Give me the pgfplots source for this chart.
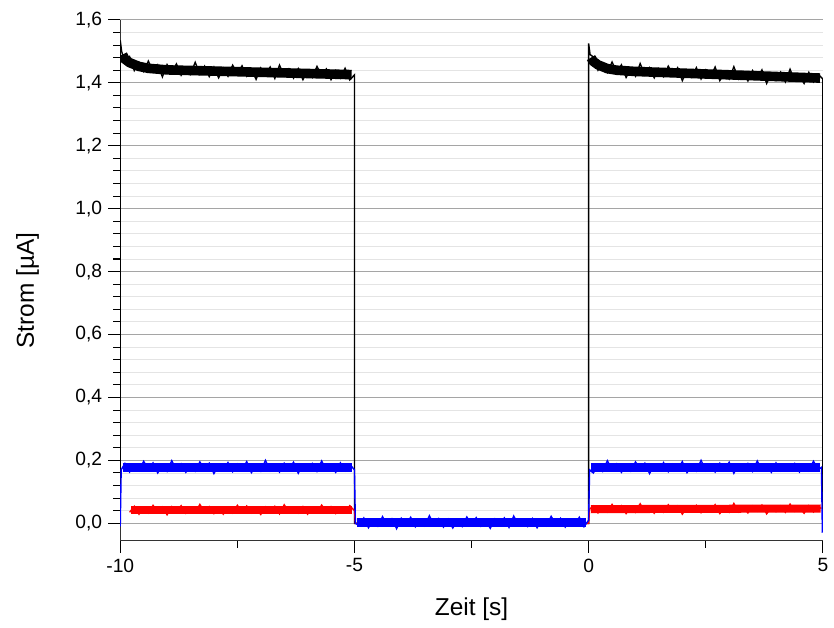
\documentclass[border=0pt]{standalone}
\usepackage{fontspec}
\setmainfont{Liberation Sans}
\usepackage{pgfplots}
\pgfplotsset{compat=1.18}
\definecolor{gridmaj}{RGB}{165,165,165}
\definecolor{gridmin}{RGB}{228,228,228}
\begin{document}
\begin{tikzpicture}
\begin{axis}[
  scale only axis, width=14.14cm, height=10.48cm,
  xmin=-10, xmax=5, ymin=-0.055, ymax=1.6,
  axis lines=left, axis line style={-, black!80, line width=0.8pt},
  xtick={-10,-5,0,5}, minor x tick num=1,
  ytick={0,0.2,0.4,0.6,0.8,1.0,1.2,1.4,1.6}, minor y tick num=4,
  tick align=outside, major tick length=0.24cm, minor tick length=0.14cm,
  tick style={black, line width=0.6pt},
  ymajorgrids, yminorgrids,
  major grid style={gridmaj, line width=0.6pt},
  minor grid style={gridmin, line width=0.5pt},
  /pgf/number format/assume math mode=true,
  yticklabel style={/pgf/number format/.cd, use comma, fixed, fixed zerofill, precision=1},
  tick label style={font=\fontsize{11}{13}\selectfont},
  label style={font=\fontsize{14}{16}\selectfont},
  xlabel={Zeit [s]}, ylabel={Strom [µA]},
  xlabel style={at={(axis description cs:0.5,-0.132)}, anchor=center},
  ylabel style={at={(axis description cs:-0.132,0.48)}, anchor=center},
]
% black: cores and noisy trace
\addplot[black, line width=5.5pt] coordinates {(-9.95,1.49)(-9.9,1.475)(-9.8,1.464)(-9.6,1.452)(-9.4,1.446)(-9,1.441)(-5.06,1.426)};
\addplot[black, line width=5.5pt] coordinates {(0.05,1.48)(0.1,1.468)(0.2,1.457)(0.4,1.445)(0.6,1.440)(1,1.436)(4.94,1.415)};
\addplot[black, line width=0.8pt] coordinates {
(-10,0.0)(-10,1.535)(-9.97,1.50)
(-9.9,1.463)(-9.8,1.483)(-9.7,1.439)(-9.6,1.465)(-9.5,1.436)(-9.4,1.469)(-9.3,1.435)(-9.2,1.457)(-9.1,1.419)(-9.0,1.458)
(-8.9,1.435)(-8.8,1.460)(-8.7,1.424)(-8.6,1.448)(-8.5,1.427)(-8.4,1.465)(-8.3,1.428)(-8.2,1.453)(-8.1,1.420)(-8.0,1.450)
(-7.9,1.416)(-7.8,1.447)(-7.7,1.421)(-7.6,1.456)(-7.5,1.428)(-7.4,1.454)(-7.3,1.421)(-7.2,1.442)(-7.1,1.411)(-7.0,1.447)
(-6.9,1.423)(-6.8,1.450)(-6.7,1.414)(-6.6,1.456)(-6.5,1.422)(-6.4,1.444)(-6.3,1.415)(-6.2,1.445)(-6.1,1.410)(-6.0,1.438)
(-5.9,1.417)(-5.8,1.452)(-5.7,1.422)(-5.6,1.444)(-5.5,1.410)(-5.4,1.439)(-5.3,1.415)(-5.2,1.446)(-5.1,1.409)(-5.0,1.425)
(-5.0,0.0)(0.0,0.0)(0.0,1.525)(0.03,1.49)
(0.1,1.482)(0.2,1.440)(0.3,1.461)(0.4,1.433)(0.5,1.466)(0.6,1.433)(0.7,1.457)(0.8,1.417)(0.9,1.445)(1.0,1.421)
(1.1,1.461)(1.2,1.425)(1.3,1.448)(1.4,1.416)(1.5,1.445)(1.6,1.420)(1.7,1.453)(1.8,1.426)(1.9,1.448)(2.0,1.407)
(2.1,1.439)(2.2,1.418)(2.3,1.448)(2.4,1.412)(2.5,1.441)(2.6,1.418)(2.7,1.450)(2.8,1.407)(2.9,1.432)(3.0,1.412)
(3.1,1.451)(3.2,1.412)(3.3,1.435)(3.4,1.406)(3.5,1.439)(3.6,1.414)(3.7,1.441)(3.8,1.398)(3.9,1.431)(4.0,1.408)
(4.1,1.434)(4.2,1.403)(4.3,1.443)(4.4,1.407)(4.5,1.424)(4.6,1.398)(4.7,1.433)(4.8,1.403)(4.9,1.427)(5.0,1.412)(5.0,0.0)
};
% red
\addplot[red, line width=4.6pt] coordinates {(-9.76,0.043)(-5.05,0.043)};
\addplot[red, line width=4.6pt] coordinates {(0.05,0.045)(4.95,0.047)};
\addplot[red, line width=0.8pt] coordinates {
(-9.8,0.035)(-9.7,0.054)(-9.6,0.029)(-9.5,0.050)(-9.4,0.033)(-9.3,0.057)(-9.2,0.037)(-9.1,0.052)(-9.0,0.027)
(-8.9,0.053)(-8.8,0.038)(-8.7,0.056)(-8.6,0.032)(-8.5,0.049)(-8.4,0.034)(-8.3,0.060)(-8.2,0.036)(-8.1,0.053)(-8.0,0.031)
(-7.9,0.051)(-7.8,0.029)(-7.7,0.049)(-7.6,0.033)(-7.5,0.057)(-7.4,0.037)(-7.3,0.055)(-7.2,0.033)(-7.1,0.048)(-7.0,0.028)
(-6.9,0.052)(-6.8,0.036)(-6.7,0.054)(-6.6,0.030)(-6.5,0.059)(-6.4,0.037)(-6.3,0.051)(-6.2,0.033)(-6.1,0.053)(-6.0,0.029)
(-5.9,0.049)(-5.8,0.034)(-5.7,0.058)(-5.6,0.038)(-5.5,0.053)(-5.4,0.031)(-5.3,0.050)(-5.2,0.035)(-5.1,0.056)(-5.0,0.040)
(-4.98,0.0)(0.0,0.0)(0.02,0.045)
(0.1,0.055)(0.2,0.033)(0.3,0.051)(0.4,0.036)(0.5,0.060)(0.6,0.039)(0.7,0.056)(0.8,0.031)(0.9,0.050)(1.0,0.035)
(1.1,0.062)(1.2,0.038)(1.3,0.054)(1.4,0.032)(1.5,0.052)(1.6,0.035)(1.7,0.059)(1.8,0.040)(1.9,0.055)(2.0,0.029)
(2.1,0.051)(2.2,0.037)(2.3,0.057)(2.4,0.034)(2.5,0.053)(2.6,0.039)(2.7,0.059)(2.8,0.031)(2.9,0.049)(3.0,0.035)
(3.1,0.063)(3.2,0.036)(3.3,0.052)(3.4,0.033)(3.5,0.055)(3.6,0.039)(3.7,0.058)(3.8,0.030)(3.9,0.051)(4.0,0.037)
(4.1,0.055)(4.2,0.035)(4.3,0.061)(4.4,0.038)(4.5,0.050)(4.6,0.032)(4.7,0.056)(4.8,0.036)(4.9,0.053)(4.97,0.047)
};
% blue
\addplot[blue, line width=5pt] coordinates {(-9.95,0.178)(-5.05,0.178)};
\addplot[blue, line width=5pt] coordinates {(-4.95,0.003)(-0.05,0.003)};
\addplot[blue, line width=5pt] coordinates {(0.05,0.178)(4.94,0.178)};
\addplot[blue, line width=0.8pt] coordinates {
(-10.0,-0.01)(-9.98,0.17)
(-9.9,0.190)(-9.8,0.163)(-9.7,0.186)(-9.6,0.167)(-9.5,0.197)(-9.4,0.171)(-9.3,0.192)(-9.2,0.160)(-9.1,0.184)(-9.0,0.165)
(-8.9,0.199)(-8.8,0.169)(-8.7,0.189)(-8.6,0.162)(-8.5,0.187)(-8.4,0.166)(-8.3,0.195)(-8.2,0.172)(-8.1,0.191)(-8.0,0.158)
(-7.9,0.185)(-7.8,0.168)(-7.7,0.193)(-7.6,0.164)(-7.5,0.188)(-7.4,0.170)(-7.3,0.196)(-7.2,0.161)(-7.1,0.183)(-7.0,0.166)
(-6.9,0.200)(-6.8,0.167)(-6.7,0.187)(-6.6,0.163)(-6.5,0.191)(-6.4,0.171)(-6.3,0.194)(-6.2,0.159)(-6.1,0.186)(-6.0,0.168)
(-5.9,0.190)(-5.8,0.165)(-5.7,0.198)(-5.6,0.169)(-5.5,0.184)(-5.4,0.162)(-5.3,0.192)(-5.2,0.167)(-5.1,0.188)(-5.0,0.170)
(-4.98,0.0)
(-4.9,-0.007)(-4.8,0.017)(-4.7,-0.014)(-4.6,0.012)(-4.5,-0.009)(-4.4,0.021)(-4.3,-0.005)(-4.2,0.014)(-4.1,-0.017)(-4.0,0.016)
(-3.9,-0.003)(-3.8,0.019)(-3.7,-0.011)(-3.6,0.010)(-3.5,-0.008)(-3.4,0.024)(-3.3,-0.006)(-3.2,0.015)(-3.1,-0.012)(-3.0,0.013)
(-2.9,-0.015)(-2.8,0.011)(-2.7,-0.010)(-2.6,0.020)(-2.5,-0.004)(-2.4,0.018)(-2.3,-0.009)(-2.2,0.009)(-2.1,-0.016)(-2.0,0.014)
(-1.9,-0.006)(-1.8,0.017)(-1.7,-0.013)(-1.6,0.023)(-1.5,-0.005)(-1.4,0.013)(-1.3,-0.010)(-1.2,0.015)(-1.1,-0.014)(-1.0,0.010)
(-0.9,-0.008)(-0.8,0.022)(-0.7,-0.003)(-0.6,0.016)(-0.5,-0.012)(-0.4,0.012)(-0.3,-0.007)(-0.2,0.019)(-0.1,-0.011)(0.0,0.010)
(0.02,0.17)
(0.1,0.160)(0.2,0.184)(0.3,0.165)(0.4,0.199)(0.5,0.169)(0.6,0.189)(0.7,0.162)(0.8,0.187)(0.9,0.166)(1.0,0.195)
(1.1,0.172)(1.2,0.191)(1.3,0.158)(1.4,0.185)(1.5,0.168)(1.6,0.193)(1.7,0.164)(1.8,0.188)(1.9,0.170)(2.0,0.196)
(2.1,0.161)(2.2,0.183)(2.3,0.166)(2.4,0.200)(2.5,0.167)(2.6,0.187)(2.7,0.163)(2.8,0.191)(2.9,0.171)(3.0,0.194)
(3.1,0.159)(3.2,0.186)(3.3,0.168)(3.4,0.190)(3.5,0.165)(3.6,0.198)(3.7,0.169)(3.8,0.184)(3.9,0.162)(4.0,0.192)
(4.1,0.167)(4.2,0.188)(4.3,0.170)(4.4,0.190)(4.5,0.163)(4.6,0.186)(4.7,0.167)(4.8,0.197)(4.9,0.171)(4.97,0.178)(4.99,-0.03)
};
\end{axis}
\path ([xshift=-2.42cm,yshift=-1.74cm]current axis.south west) rectangle ([xshift=0.12cm,yshift=0.4cm]current axis.north east);
\end{tikzpicture}
\end{document}
